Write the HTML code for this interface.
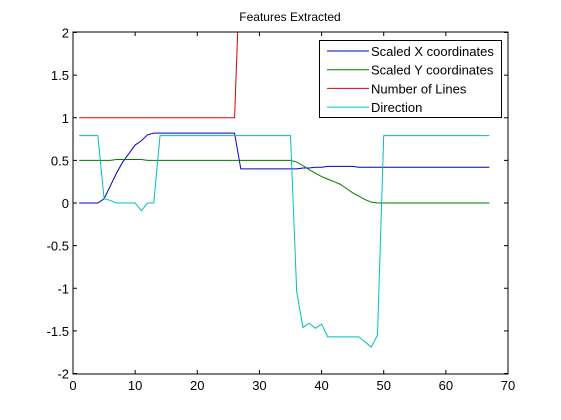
<!DOCTYPE html>
<html><head><meta charset="utf-8"><style>
html,body{margin:0;padding:0;background:#fff;}
svg{display:block;font-family:"Liberation Sans",Arial,sans-serif;}
</style></head><body>
<svg id="chart" width="561" height="420">
<defs><clipPath id="clip"><rect x="73" y="32" width="435" height="342"/></clipPath></defs>
<rect x="0" y="0" width="561" height="420" fill="#fff"/>
<text x="290" y="21" text-anchor="middle" font-size="12">Features Extracted</text>
<g id="ticks"></g>
<g id="series" clip-path="url(#clip)"></g>
<rect x="73" y="32" width="435" height="342" fill="none" stroke="#000" stroke-width="1"/>
<g id="legend"></g>
</svg>
<script>
const xTicks=[0,10,20,30,40,50,60,70];
const yTicks=[-2,-1.5,-1,-0.5,0,0.5,1,1.5,2];
const yTickLabels=["-2","-1.5","-1","-0.5","0","0.5","1","1.5","2"];
const seriesNames=["Scaled X coordinates","Scaled Y coordinates","Number of Lines","Direction"];
const scaledX=[0,0,0,0,0.05,0.2,0.35,0.48,0.58,0.68,0.73,0.8,0.82,0.82,0.82,0.82,0.82,0.82,0.82,0.82,0.82,0.82,0.82,0.82,0.82,0.82,0.4,0.4,0.4,0.4,0.4,0.4,0.4,0.4,0.4,0.4,0.41,0.41,0.42,0.42,0.43,0.43,0.43,0.43,0.43,0.42,0.42,0.42,0.42,0.42,0.42,0.42,0.42,0.42,0.42,0.42,0.42,0.42,0.42,0.42,0.42,0.42,0.42,0.42,0.42,0.42,0.42];
const scaledY=[0.5,0.5,0.5,0.5,0.5,0.5,0.51,0.51,0.51,0.51,0.51,0.5,0.5,0.5,0.5,0.5,0.5,0.5,0.5,0.5,0.5,0.5,0.5,0.5,0.5,0.5,0.5,0.5,0.5,0.5,0.5,0.5,0.5,0.5,0.5,0.48,0.44,0.39,0.35,0.31,0.28,0.25,0.22,0.17,0.12,0.08,0.04,0.01,0,0,0,0,0,0,0,0,0,0,0,0,0,0,0,0,0,0,0];
const numLines=[1,1,1,1,1,1,1,1,1,1,1,1,1,1,1,1,1,1,1,1,1,1,1,1,1,1,3,3,3,3,3,3,3,3,3,3,3,3,3,3,3,3,3,3,3,3,3,3,3,3,3,3,3,3,3,3,3,3,3,3,3,3,3,3,3,3,3];
const direction=[0.79,0.79,0.79,0.79,0.05,0.03,0.0,0.0,0.0,0.0,-0.09,0.0,0.0,0.79,0.79,0.79,0.79,0.79,0.79,0.79,0.79,0.79,0.79,0.79,0.79,0.79,0.79,0.79,0.79,0.79,0.79,0.79,0.79,0.79,0.79,-1.04,-1.46,-1.41,-1.47,-1.42,-1.57,-1.57,-1.57,-1.57,-1.57,-1.57,-1.63,-1.69,-1.55,0.79,0.79,0.79,0.79,0.79,0.79,0.79,0.79,0.79,0.79,0.79,0.79,0.79,0.79,0.79,0.79,0.79,0.79];
const colors=["#0000c8","#007a00","#e00000","#00bfbf"];
const NS="http://www.w3.org/2000/svg";
const X=v=>73+v*435/70;
const Y=v=>203+(-v)*341/4;
const tk=document.getElementById('ticks');
function mk(tag,attrs,parent){const e=document.createElementNS(NS,tag);for(const k in attrs)e.setAttribute(k,attrs[k]);parent.appendChild(e);return e;}
xTicks.forEach(v=>{
  const a=mk('line',{x1:X(v),x2:X(v),y1:374,y2:370,stroke:'#000'},tk);
  
  
  const b=mk('line',{x1:X(v),x2:X(v),y1:32,y2:36,stroke:'#000'},tk);
  
  
  const t=mk('text',{x:X(v),y:390,'text-anchor':'middle','font-size':13},tk);
  t.textContent=String(v);
  
  
});
yTicks.forEach((v,i)=>{
  const a=mk('line',{x1:73,x2:77,y1:Y(v),y2:Y(v),stroke:'#000'},tk);
  
  
  const b=mk('line',{x1:508,x2:504,y1:Y(v),y2:Y(v),stroke:'#000'},tk);
  
  
  const t=mk('text',{x:69,y:Y(v)+5,'text-anchor':'end','font-size':13},tk);
  t.textContent=yTickLabels[i];
  
  
});
const sg=document.getElementById('series');
const allSeries=[scaledX,scaledY,numLines,direction];
const sNames=['scaled-x-line','scaled-y-line','number-of-lines-line','direction-line'];
allSeries.forEach((arr,si)=>{
  const pts=arr.map((v,i)=>X(i+1).toFixed(2)+','+Y(v).toFixed(2)).join(' ');
  const p=mk('polyline',{points:pts,fill:'none',stroke:colors[si],'stroke-width':1},sg);
  
  
});
const lg=document.getElementById('legend');
const box=mk('rect',{x:319.5,y:40.5,width:182,height:77,fill:'#fff',stroke:'#000'},lg);


seriesNames.forEach((n,i)=>{
  const y=51+i*18.7;
  const l=mk('line',{x1:327,x2:369,y1:y,y2:y,stroke:colors[i]},lg);
  
  
  const t=mk('text',{x:371,y:y+5,'font-size':13},lg);
  t.textContent=n;
  
  
});
</script>
</body></html>
